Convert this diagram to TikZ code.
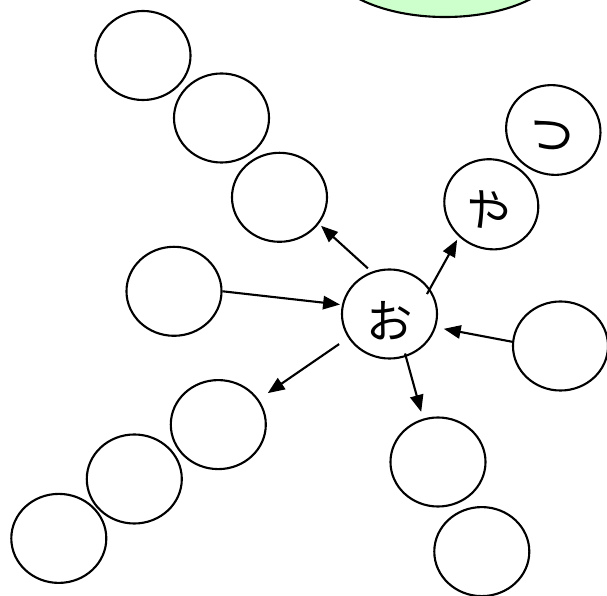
\documentclass[tikz,border=0pt]{standalone}
\usepackage{fontspec}
\newfontfamily\jpfont{Noto Sans CJK JP}
\usetikzlibrary{arrows.meta,shapes.geometric}
\definecolor{snackgreen}{RGB}{204,255,204}
\newcommand{\kana}[1]{\raisebox{-5pt}[\height][\depth]{#1}}
\tikzset{
    bubble/.style = {ellipse,
                    fill=white,
                    draw=black,
                    text=black,
                    line width=1.5pt,
                    inner sep=0pt,
                    minimum width=2.375cm,
                    minimum height=2.225cm,
                    font=\jpfont\fontsize{33}{36}\selectfont},
    topblob/.style = {ellipse,
                    fill=snackgreen,
                    draw=black,
                    line width=1.5pt,
                    minimum width=6cm,
                    minimum height=3cm},
    link/.style =   {line width=1.5pt,
                    -{Triangle[length=12pt,width=9.5pt]}}
}
\begin{document}
\begin{tikzpicture}[x=0.025cm,y=-0.025cm]
                \useasboundingbox (0,0) rectangle (607,596);
                \node[topblob]      (G)    at (445,-43)       {};
                \node[bubble]       (O)    at (389.5,314)     {\kana{お}};
                \node[bubble]       (UL1)  at (143,55.5)      {};
                \node[bubble]       (UL2)  at (221.5,118)     {};
                \node[bubble]       (UL3)  at (279.5,197.3)   {};
                \node[bubble]       (L)    at (174,291.3)     {};
                \node[bubble]       (LL1)  at (218.3,424.6)   {};
                \node[bubble]       (LL2)  at (134.3,479)     {};
                \node[bubble]       (LL3)  at (58.8,538.4)    {};
                \node[bubble]       (D1)   at (438,462)       {};
                \node[bubble]       (D2)   at (481.8,551.6)   {};
                \node[bubble]       (R)    at (560.5,346)     {};
                \node[bubble,rotate=-25] (Y) at (491.3,204.3) {\kana{や}};
                \node[bubble,rotate=-20] (T) at (553.3,130)   {\kana{つ}};

                \path [link]    (O.113)  edge [shorten <=3.5pt,shorten >=2pt]    (UL3.-34)
                                (L.0)    edge [shorten >=1.4pt]                  (O.169)
                                (O.32)   edge [shorten <=-4.3pt,shorten >=2.5pt] (Y.-110)
                                (R.175)  edge [shorten >=5.7pt]                  (O.-16)
                                (O.-69)  edge [shorten <=-2.5pt,shorten >=5pt]   (D1.109)
                                (O.-150) edge [shorten <=7.8pt,shorten >=7.8pt]  (LL1.32);
        \end{tikzpicture}
\end{document}
